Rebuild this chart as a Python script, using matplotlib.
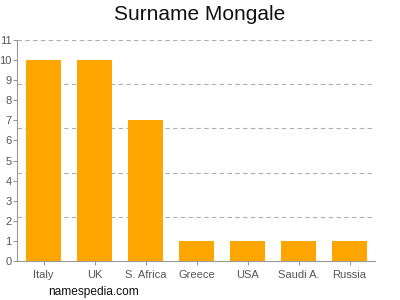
import matplotlib
matplotlib.use("Agg")
import matplotlib.pyplot as plt
import numpy as np

countries = ["Italy", "UK", "S. Africa", "Greece", "USA", "Saudi A.", "Russia"]
counts = [10, 10, 7, 1, 1, 1, 1]
y_ticks = list(range(0, 12))
grid_levels = [2.2, 4.4, 6.6, 8.8, 11]

plt.rcParams["font.family"] = ["Liberation Sans", "DejaVu Sans"]

fig = plt.figure(figsize=(4, 3), dpi=100)
ax = fig.add_axes([0.0425, 0.13, 0.895, 0.7367])

x = np.arange(len(countries))
ax.bar(x, counts, width=0.686, color="#FFA500", zorder=3)

for g in grid_levels:
    ax.axhline(g, color="#b0b0b0", linestyle=(0, (4, 3)), linewidth=0.8, zorder=1)

ax.set_xlim(-0.52, len(countries) - 0.5)
ax.set_ylim(0, 11)
ax.set_xticks(x)
ax.set_xticklabels(countries)
ax.set_yticks(y_ticks)

for side in ["top", "right"]:
    ax.spines[side].set_visible(False)
for side in ["left", "bottom"]:
    ax.spines[side].set_color("#999999")
    ax.spines[side].set_linewidth(0.8)

ax.tick_params(axis="both", colors="#999999", labelcolor="#555555", labelsize=8, length=3, width=0.8)
ax.tick_params(axis="y", pad=1)

fig.text(0.5, 0.95, "Surname Mongale", ha="center", va="center", fontsize=15, color="#111111")
fig.text(0.12, 0.027, "namespedia.com", ha="left", va="center", fontsize=8.6, color="#111111")

fig.savefig("out.png", dpi=100)
